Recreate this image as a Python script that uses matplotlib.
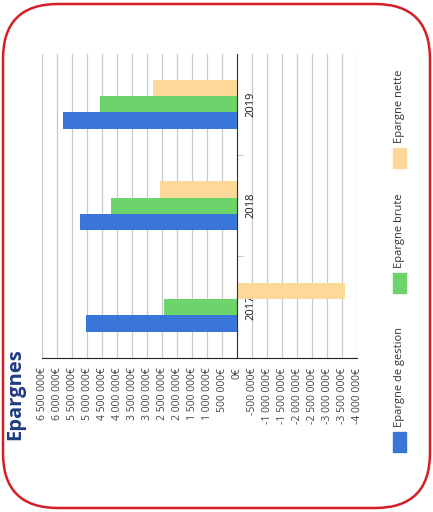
import matplotlib
matplotlib.use("Agg")
import matplotlib.pyplot as plt
from matplotlib.patches import FancyBboxPatch, Rectangle
import numpy as np

plt.rcParams['font.family'] = ['Open Sans', 'DejaVu Sans']

# Data
years = ["2017", "2018", "2019"]
series_names = ["Epargne de gestion", "Epargne brute", "Epargne nette"]
epargne_gestion = [5050000, 5220000, 5810000]
epargne_brute = [2450000, 4190000, 4560000]
epargne_nette = [-3610000, 2560000, 2810000]
colors = ["#3a76d9", "#6dd36b", "#fcd998"]
value_ticks = list(range(-4000000, 6500001, 500000))


def fmt_euro(v):
    s = f"{abs(v):,}".replace(",", " ")
    return ("-" if v < 0 else "") + s + "€"


fig = plt.figure(figsize=(4.33, 5.12), dpi=100)
ax = fig.add_axes([0.097, 0.3008, 0.7275, 0.5947])

# Horizontal bars (chart is shown rotated)
pos = np.arange(len(years))
h = 0.16
for i, (vals, c) in enumerate(zip([epargne_gestion, epargne_brute, epargne_nette], colors)):
    ax.barh(pos + (i - 1) * h, vals, height=h, color=c, zorder=2)

ax.set_xlim(value_ticks[-1], value_ticks[0])
ax.set_ylim(-0.5, len(years) - 0.5)

ax.set_xticks(value_ticks)
ax.set_xticklabels([fmt_euro(v) for v in value_ticks], rotation=90,
                   fontsize=7.5, color="#444444")
ax.tick_params(axis="x", length=0, pad=7)
ax.xaxis.grid(True, color="#c9c9c9", lw=0.9)
ax.set_axisbelow(True)

# Category axis sits on the zero line
ax.spines["left"].set_visible(False)
ax.spines["top"].set_visible(False)
ax.spines["right"].set_position(("data", 0))
ax.spines["right"].set_color("#333333")
ax.spines["bottom"].set_color("#222222")
ax.yaxis.tick_right()
ax.set_yticks(pos)
ax.set_yticklabels(years, rotation=90, fontsize=8, color="#1a1a1a", va="center")
ax.set_yticks(pos[:-1] + 0.5, minor=True)
ax.tick_params(axis="y", which="major", length=0, pad=6)
ax.tick_params(axis="y", which="minor", length=4, color="#bbbbbb", direction="out")

# Title
fig.text(15.5 / 433, 1 - 440 / 512, "Epargnes", rotation=90, ha="center", va="bottom",
         fontsize=14.5, fontweight="bold", color="#1f3c84")

# Legend (rotated, drawn by hand)
W, H = 433, 512
legend_items = [(series_names[0], colors[0], 432, 427),
                (series_names[1], colors[1], 273, 268),
                (series_names[2], colors[2], 148, 143)]
for name, c, rect_top, text_start in legend_items:
    fig.patches.append(Rectangle((393 / W, 1 - (rect_top + 20) / H), 13 / W, 20 / H,
                                 transform=fig.transFigure, color=c, figure=fig))
    fig.text(399.5 / W, 1 - text_start / H, name, rotation=90, ha="center", va="bottom",
             fontsize=8, color="#333333")

# Rounded red frame
frame = FancyBboxPatch((0.03, 0.04), 4.27, 5.04,
                       boxstyle="round,pad=0,rounding_size=0.55",
                       transform=fig.dpi_scale_trans, fill=False,
                       edgecolor="#d41f26", lw=1.8, figure=fig)
fig.patches.append(frame)

fig.savefig("out.png", dpi=100)
